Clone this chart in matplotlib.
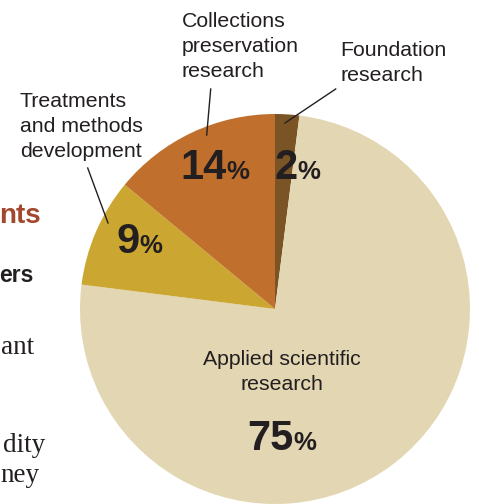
import matplotlib
matplotlib.use("Agg")
import matplotlib.pyplot as plt

# ---- data ----
categories = ["Foundation research", "Applied scientific research",
              "Treatments and methods development", "Collections preservation research"]
values = [2, 75, 9, 14]
pct_labels = ["2", "75", "9", "14"]
colors = ["#7b5426", "#e3d6b2", "#cba731", "#c0702c"]

W, H = 479, 504
fig = plt.figure(figsize=(W / 100, H / 100), dpi=100)
ax = fig.add_axes([0, 0, 1, 1])

def Y(py):
    return H - py

TXT = "#231f20"
SANS = ["Liberation Sans", "DejaVu Sans"]
SERIF = ["Liberation Serif", "DejaVu Serif"]

# background page fragments (cropped text from surrounding page)
ax.text(41, Y(223), "nts", ha="right", va="baseline", fontsize=20, fontweight="bold",
        color="#a3472d", family=SANS)
ax.text(34, Y(282), "ers", ha="right", va="baseline", fontsize=16.5, fontweight="bold",
        color=TXT, family=SANS)
ax.text(0.5, Y(354), "ant", ha="left", va="baseline", fontsize=19.5, color=TXT, family=SERIF)
ax.text(3, Y(452), "dity", ha="left", va="baseline", fontsize=19.5, color=TXT, family=SERIF)
ax.text(0.5, Y(482), "ney", ha="left", va="baseline", fontsize=19.5, color=TXT, family=SERIF)

# pie
ax.pie(values, colors=colors, startangle=90, counterclock=False,
       center=(275, Y(309)), radius=195, frame=True,
       wedgeprops=dict(linewidth=0))

# category labels (line by line)
def lines(x, y0, txts, ha="left"):
    for i, t in enumerate(txts):
        ax.text(x, Y(y0 + 25 * i), t, ha=ha, va="baseline", fontsize=15.3,
                color=TXT, family=SANS)

lines(181.5, 26.7, ["Collections", "preservation", "research"])
lines(340.5, 56, ["Foundation", "research"])
lines(20, 106.7, ["Treatments", "and methods", "development"])
lines(282, 365, ["Applied scientific", "research"], ha="center")

# percentage labels: bold digits + smaller percent sign
def pct(xsplit, yb, num):
    ax.text(xsplit, Y(yb), num, ha="right", va="baseline", fontsize=30,
            fontweight="bold", color=TXT, family=SANS)
    ax.text(xsplit - 0.5, Y(yb), "%", ha="left", va="baseline", fontsize=18.5,
            fontweight="bold", color=TXT, family=SANS)

pct(298, 179, pct_labels[0])
pct(294, 450, pct_labels[1])
pct(140, 253, pct_labels[2])
pct(227, 179, pct_labels[3])

# leader lines
leaders = [((210.7, 89), (206.7, 135)),
           ((335.7, 89), (285, 123)),
           ((87.7, 168), (108, 223))]
for (x1, y1), (x2, y2) in leaders:
    ax.plot([x1, x2], [Y(y1), Y(y2)], color=TXT, linewidth=1.0)

ax.set_xlim(0, W)
ax.set_ylim(0, H)
ax.set_aspect("equal")
ax.axis("off")

fig.savefig("out.png", dpi=100, facecolor="white")
